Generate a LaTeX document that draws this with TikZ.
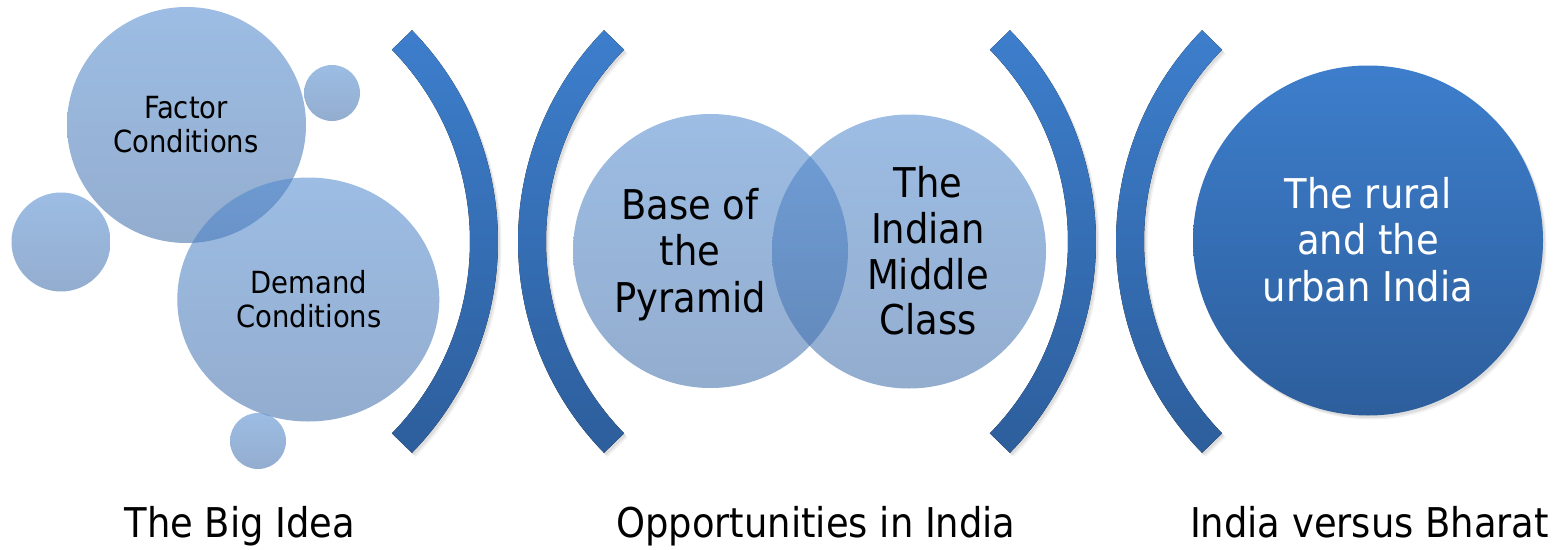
\documentclass[tikz,border=0pt]{standalone}
\usepackage{fontspec}
\setmainfont{DejaVu Sans Condensed}
\usetikzlibrary{calc,shapes.geometric}
\definecolor{lbtop}{RGB}{77,135,206}
\definecolor{lbbot}{RGB}{59,106,168}
\definecolor{dbtop}{RGB}{61,126,204}
\definecolor{dbbot}{RGB}{45,94,156}
\tikzset{
  softshadow/.style={
    preaction={fill=black, fill opacity=0.06, transform canvas={xshift=3.5pt,yshift=-4pt}},
    preaction={fill=black, fill opacity=0.08, transform canvas={xshift=2pt,yshift=-2.5pt}}},
  bubble/.style={ellipse, draw=none, inner sep=0pt, top color=lbtop, bottom color=lbbot, fill opacity=0.55},
  darkbubble/.style={circle, draw=none, inner sep=0pt, softshadow, top color=dbtop, bottom color=dbbot},
  smalltext/.style={anchor=base, inner sep=0pt, font=\fontsize{30.5}{34}\selectfont},
  bigtext/.style={anchor=base, inner sep=0pt, font=\fontsize{41}{46}\selectfont},
  whitetext/.style={bigtext, text=white},
  captiontext/.style={anchor=base, inner sep=0pt, font=\fontsize{41}{46}\selectfont},
  bracketfill/.style={softshadow, top color=dbtop, bottom color=dbbot},
}
\begin{document}
\begin{tikzpicture}[x=1pt,y=-1pt]
\useasboundingbox (0,0) rectangle (1553,549);
\fill[white] (0,0) rectangle (1553,549);

% right-facing brackets ")"
\foreach \cx in {195.4, 793.4}{
  \fill[bracketfill] ($(\cx,241.5)+(-44.3:302.6)$) arc[start angle=-44.3, end angle=44.3, radius=302.6]
    -- ($(\cx,241.5)+(44.3:274.6)$) arc[start angle=44.3, end angle=-44.3, radius=274.6] -- cycle;
}
% left-facing brackets "("
\foreach \cx in {820.6, 1418.6}{
  \fill[bracketfill] ($(\cx,241.5)+(135.7:302.6)$) arc[start angle=135.7, end angle=224.3, radius=302.6]
    -- ($(\cx,241.5)+(224.3:274.6)$) arc[start angle=224.3, end angle=135.7, radius=274.6] -- cycle;
}

% The Big Idea bubbles
\node[bubble, minimum width=239pt, minimum height=236pt] (fc) at (186.5,125) {};
\node[bubble, minimum width=56pt, minimum height=56pt] (s1) at (332,93) {};
\node[bubble, minimum width=99pt, minimum height=99pt] (s2) at (61,242) {};
\node[bubble, minimum width=262pt, minimum height=244pt] (dc) at (308.3,299.5) {};
\node[bubble, minimum width=56pt, minimum height=56pt] (s3) at (258,441) {};
\node[smalltext] (fc1) at (186,118) {Factor};
\node[smalltext] (fc2) at (186,152) {Conditions};
\node[smalltext] (dc1) at (309,293) {Demand};
\node[smalltext] (dc2) at (309,327) {Conditions};

% Venn
\node[bubble, minimum width=275pt, minimum height=274pt] (bop) at (710.5,251) {};
\node[bubble, minimum width=274pt, minimum height=274pt] (imc) at (909,251.5) {};
\node[bigtext] (b1) at (690,219) {Base of};
\node[bigtext] (b2) at (690,265) {the};
\node[bigtext] (b3) at (690,312) {Pyramid};
\node[bigtext] (m1) at (928,197) {The};
\node[bigtext] (m2) at (928,243) {Indian};
\node[bigtext] (m3) at (928,289) {Middle};
\node[bigtext] (m4) at (928,334) {Class};

% India vs Bharat
\node[darkbubble, minimum size=350pt] (ru) at (1368,240.5) {};
\node[whitetext] (r1) at (1368,208) {The rural};
\node[whitetext] (r2) at (1368,254) {and the};
\node[whitetext] (r3) at (1368,301) {urban India};

% captions
\node[captiontext] (c1) at (240,537) {The Big Idea};
\node[captiontext] (c2) at (816,537) {Opportunities in India};
\node[captiontext] (c3) at (1369.5,537) {India versus Bharat};
\end{tikzpicture}
\end{document}
